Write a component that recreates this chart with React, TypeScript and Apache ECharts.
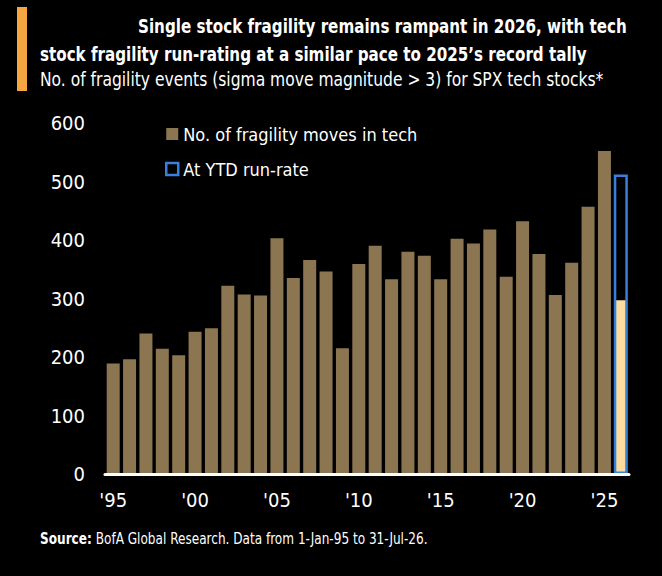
import React, { useEffect, useRef } from 'react';
import * as echarts from 'echarts';

const years = [
  '1995', '1996', '1997', '1998', '1999', '2000', '2001', '2002', '2003', '2004',
  '2005', '2006', '2007', '2008', '2009', '2010', '2011', '2012', '2013', '2014',
  '2015', '2016', '2017', '2018', '2019', '2020', '2021', '2022', '2023', '2024',
  '2025', '2026'
];

// full-year counts, 2026 not complete yet
const fragilityMoves = [
  189, 196, 240, 214, 203, 243, 249, 322, 307, 305,
  403, 335, 366, 346, 215, 359, 390, 333, 380, 373,
  333, 402, 394, 418, 337, 432, 376, 306, 361, 457,
  552, null
];

const ytd2026 = [...Array(31).fill(null), 297];
const runRate2026 = [...Array(31).fill(null), 512];

const yTicks = { min: 0, max: 600, interval: 100 };

const FONT = "'DejaVu Sans Condensed', 'Liberation Sans Narrow', sans-serif";

// squeeze a line of text to the width it has in the original
const fitScale = (parts: [string, string][], width: number) => {
  const ctx = document.createElement('canvas').getContext('2d');
  if (!ctx) return 1;
  let w = 0;
  parts.forEach(([text, font]) => {
    ctx.font = font;
    w += ctx.measureText(text).width;
  });
  return w > 0 ? width / w : 1;
};

export default function App() {
  const chartRef = useRef<HTMLDivElement>(null);

  useEffect(() => {
    document.body.style.margin = '0';
    document.body.style.background = '#000';
    const chart = echarts.init(chartRef.current, null, { renderer: 'svg' });

    const title1 = 'Single stock fragility remains rampant in 2026, with tech';
    const title2 = 'stock fragility run-rating at a similar pace to 2025\u2019s record tally';
    const subtitle = 'No. of fragility events (sigma move magnitude > 3) for SPX tech stocks*';
    const sourceRest = ' BofA Global Research. Data from 1-Jan-95 to 31-Jul-26.';
    const boldFont = `bold 20px ${FONT}`;
    const regFont = `20px ${FONT}`;
    const srcFont = `15px ${FONT}`;
    const srcBold = `bold 15px ${FONT}`;

    const option = {
      animation: false,
      backgroundColor: '#000',
      textStyle: { fontFamily: FONT },
      grid: { left: 105, right: 33, top: 123, bottom: 102 },
      legend: {
        orient: 'vertical',
        left: 160,
        top: 119,
        itemWidth: 12,
        itemHeight: 12,
        itemGap: 15,
        textStyle: { color: '#fff', fontSize: 18, lineHeight: 20, fontFamily: FONT },
        data: [
          { name: 'No. of fragility moves in tech', icon: 'rect' },
          {
            name: 'At YTD run-rate',
            icon: 'rect',
            itemStyle: { color: 'rgba(0,0,0,0)', borderColor: '#3b7fdc', borderWidth: 2.5 }
          }
        ]
      },
      xAxis: [
        {
          type: 'category',
          data: years,
          axisLine: { lineStyle: { color: '#fff', width: 3 } },
          axisTick: { show: false },
          axisLabel: {
            color: '#fff',
            fontSize: 20,
            fontFamily: FONT,
            margin: 16,
            interval: (i: number) => i % 5 === 0,
            formatter: (v: string) => "'" + v.slice(2)
          },
          z: 10
        },
        { type: 'category', data: years, show: false },
        { type: 'category', data: years, show: false }
      ],
      yAxis: {
        type: 'value',
        min: yTicks.min,
        max: yTicks.max,
        interval: yTicks.interval,
        axisLine: { show: false },
        axisTick: { show: false },
        splitLine: { show: false },
        axisLabel: { color: '#fff', fontSize: 20, fontFamily: FONT, margin: 20 }
      },
      series: [
        {
          name: 'No. of fragility moves in tech',
          type: 'bar',
          xAxisIndex: 0,
          barWidth: 13,
          itemStyle: { color: '#8b7651' },
          data: fragilityMoves
        },
        {
          name: 'YTD 2026',
          type: 'bar',
          xAxisIndex: 1,
          barWidth: 10,
          itemStyle: { color: '#fbdc9e' },
          data: ytd2026
        },
        {
          name: 'At YTD run-rate',
          type: 'bar',
          xAxisIndex: 2,
          barWidth: 14,
          itemStyle: { color: 'rgba(0,0,0,0)', borderColor: '#3b7fdc', borderWidth: 2.5 },
          data: runRate2026
        }
      ],
      graphic: {
        elements: [
          { type: 'rect', shape: { x: 17, y: 7, width: 10, height: 84 }, style: { fill: '#f5a640' } },
          {
            type: 'text', x: 138, y: 26,
            scaleX: fitScale([[title1, boldFont]], 489),
            style: { text: title1, fill: '#fff', font: boldFont, textVerticalAlign: 'middle' }
          },
          {
            type: 'text', x: 40, y: 54,
            scaleX: fitScale([[title2, boldFont]], 547),
            style: { text: title2, fill: '#fff', font: boldFont, textVerticalAlign: 'middle' }
          },
          {
            type: 'text', x: 40, y: 79,
            scaleX: fitScale([[subtitle, regFont]], 564),
            style: { text: subtitle, fill: '#fff', font: regFont, textVerticalAlign: 'middle' }
          },
          {
            type: 'text', x: 40, y: 539,
            scaleX: fitScale([['Source:', srcBold], [sourceRest, srcFont]], 388),
            style: {
              text: '{b|Source:}' + sourceRest,
              fill: '#fff', font: srcFont, textVerticalAlign: 'middle',
              rich: { b: { fontWeight: 'bold', fontSize: 15, fill: '#fff', fontFamily: FONT } }
            }
          }
        ]
      }
    };

    chart.setOption(option as any);
    return () => {
      chart.dispose();
    };
  }, []);

  return <div ref={chartRef} style={{ width: 662, height: 576 }} />;
}
